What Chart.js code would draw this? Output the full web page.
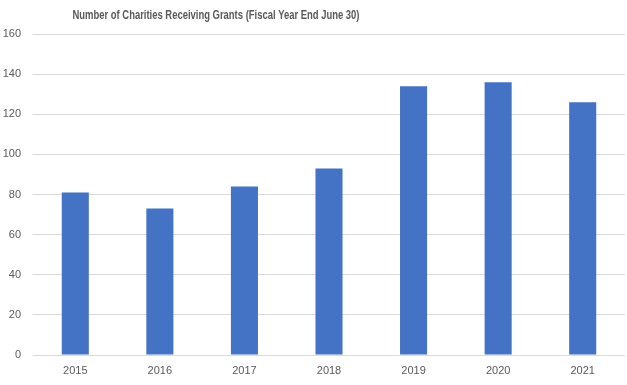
<!DOCTYPE html>
<html>
<head>
<meta charset="utf-8">
<script src="https://cdn.jsdelivr.net/npm/chart.js@4/dist/chart.umd.min.js"></script>
<style>
  html, body { margin: 0; padding: 0; background: #fff; }
  #wrap { width: 627px; height: 385px; }
</style>
</head>
<body>
<div id="wrap"><canvas id="chart"></canvas></div>
<script>
const years = ["2015", "2016", "2017", "2018", "2019", "2020", "2021"];
const charities = [81, 73, 84, 93, 134, 136, 126];
const yTicks = [0, 20, 40, 60, 80, 100, 120, 140, 160];
const titleText = "Number of Charities Receiving Grants (Fiscal Year End June 30)";

// title sits left of centre in the original, so draw it ourselves
const titlePlugin = {
  id: "leftTitle",
  afterDraw(chart) {
    const ctx = chart.ctx;
    ctx.save();
    ctx.font = "bold 12px 'Liberation Sans', Arial, sans-serif";
    ctx.fillStyle = "#595959";
    ctx.textAlign = "center";
    ctx.textBaseline = "middle";
    ctx.fillText(titleText, 216, 16, 287); // squeeze to the narrower Calibri width
    ctx.restore();
  },
};

new Chart(document.getElementById("chart").getContext("2d"), {
  type: "bar",
  data: {
    labels: years,
    datasets: [
      {
        data: charities,
        backgroundColor: "#4472c4",
        borderWidth: 0,
        categoryPercentage: 1,
        barPercentage: 0.32,
      },
    ],
  },
  options: {
    responsive: true,
    maintainAspectRatio: false,
    animation: false,
    layout: { padding: { top: 34, right: 2, left: 0, bottom: 0 } },
    plugins: {
      legend: { display: false },
      title: { display: false },
      tooltip: { enabled: false },
    },
    scales: {
      x: {
        grid: { display: false, drawTicks: false },
        border: { display: false },
        ticks: {
          color: "#595959",
          font: { family: "'Liberation Sans', Arial, sans-serif", size: 11 },
          padding: 9,
        },
        afterFit: (s) => { s.height = 30; },
      },
      y: {
        min: 0,
        max: 160,
        afterBuildTicks: (s) => { s.ticks = yTicks.map((v) => ({ value: v })); },
        grid: { color: "#d9d9d9", lineWidth: 1, drawTicks: false },
        border: { display: false },
        ticks: {
          color: "#595959",
          font: { family: "'Liberation Sans', Arial, sans-serif", size: 11 },
          padding: 12,
        },
        afterFit: (s) => { s.width = 33; },
      },
    },
  },
  plugins: [titlePlugin],
});
</script>
</body>
</html>
